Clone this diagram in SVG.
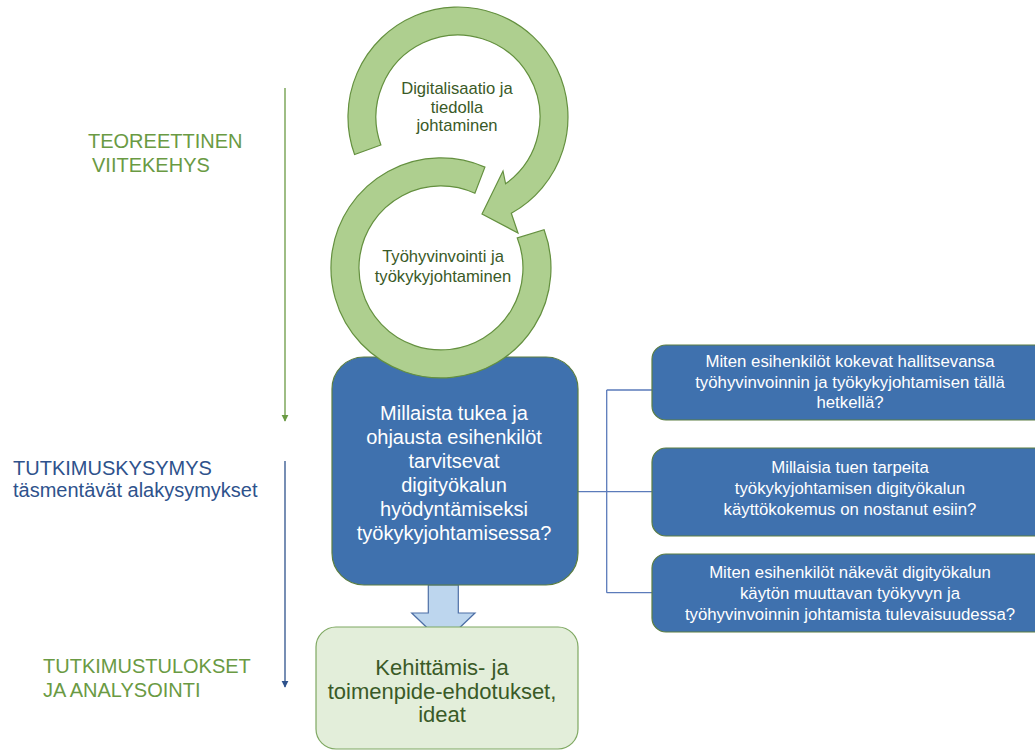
<svg xmlns="http://www.w3.org/2000/svg" width="1035" height="751" viewBox="0 0 1035 751">
  <defs>
    <style>
      text { font-family: "Liberation Sans", Arial, sans-serif; }
      .ring { fill: #AECF8F; stroke: #64903F; stroke-width: 1.2; }
      .ringtxt { font-size: 16.6px; fill: #3A5A27; text-anchor: middle; }
      .blue { fill: #3F71AE; stroke: #5C7E42; stroke-width: 1.2; }
      .maintxt { font-size: 20px; fill: #FFFFFF; text-anchor: middle; }
      .subtxt { font-size: 16.8px; fill: #FFFFFF; text-anchor: middle; }
      .result { fill: #E3EEDA; stroke: #7FA862; stroke-width: 1.2; }
      .restxt { font-size: 22px; fill: #3A5A27; text-anchor: middle; }
      .lblgreen { font-size: 20px; fill: #6A9A43; }
      .lblblue { font-size: 20px; fill: #2E528C; }
      .conn { fill: none; stroke: #5B7BBA; stroke-width: 1.3; }
    </style>
    <marker id="headGreen" viewBox="0 0 10 10" refX="9" refY="5" markerWidth="7" markerHeight="8" markerUnits="userSpaceOnUse" orient="auto">
      <path d="M0,0 L10,5 L0,10 Z" fill="#6A9A43"/>
    </marker>
    <marker id="headBlue" viewBox="0 0 10 10" refX="9" refY="5" markerWidth="7" markerHeight="8" markerUnits="userSpaceOnUse" orient="auto">
      <path d="M0,0 L10,5 L0,10 Z" fill="#2E528C"/>
    </marker>
  </defs>

  <!-- phase labels on the left -->
  <g id="label-teoria">
    <text class="lblgreen" x="88" y="148">TEOREETTINEN</text>
    <text class="lblgreen" x="92" y="172">VIITEKEHYS</text>
  </g>
  <g id="label-kysymys">
    <text class="lblblue" x="13" y="475">TUTKIMUSKYSYMYS</text>
    <text class="lblblue" x="13" y="497">täsmentävät alakysymykset</text>
  </g>
  <g id="label-tulokset">
    <text class="lblgreen" x="43" y="673">TUTKIMUSTULOKSET</text>
    <text class="lblgreen" x="43" y="697">JA ANALYSOINTI</text>
  </g>

  <!-- connectors -->
  <g id="connectors">
    <line x1="285" y1="88" x2="285" y2="421" stroke="#6A9A43" stroke-width="1.3" marker-end="url(#headGreen)"/>
    <line x1="285" y1="461" x2="285" y2="687" stroke="#2E528C" stroke-width="1.3" marker-end="url(#headBlue)"/>
    <path class="conn" d="M578,491.7 H652 M606.7,390 V592.7 M606.7,390 H652 M606.7,592.7 H652"/>
    <path d="M428.3,585 H458.3 V613 H475 L443.3,643.3 L411.7,613 H428.3 Z" fill="#BDD6EE" stroke="#4D6FA6" stroke-width="1.2"/>
  </g>

  <!-- main research question -->
  <g id="main-question">
    <rect class="blue" x="332" y="357" width="246" height="228" rx="32" ry="32"/>
    <text class="maintxt" x="454" y="420">Millaista tukea ja</text>
    <text class="maintxt" x="454" y="444">ohjausta esihenkilöt</text>
    <text class="maintxt" x="454" y="468">tarvitsevat</text>
    <text class="maintxt" x="454" y="492">digityökalun</text>
    <text class="maintxt" x="454" y="516">hyödyntämiseksi</text>
    <text class="maintxt" x="454" y="540">työkykyjohtamisessa?</text>
  </g>

  <!-- theory rings -->
  <g id="ring-digitalisaatio">
    <path class="ring" d="M354.6,154.6 A110,110 0 1 1 511.3,213.2 L518,233 L482,214 L503,171 L505.6,183.8 A82,82 0 1 0 380.9,145 Z"/>
    <text class="ringtxt" x="457" y="94">Digitalisaatio ja</text>
    <text class="ringtxt" x="457" y="112.5">tiedolla</text>
    <text class="ringtxt" x="457" y="131">johtaminen</text>
  </g>
  <g id="ring-tyohyvinvointi">
    <path class="ring" d="M484.9,167.1 A110,110 0 1 0 544.1,229.7 L517.3,238 A82,82 0 1 1 474.9,193.3 Z"/>
    <text class="ringtxt" x="443" y="262">Työhyvinvointi ja</text>
    <text class="ringtxt" x="443" y="282">työkykyjohtaminen</text>
  </g>

  <!-- sub-questions -->
  <g id="sub-question-1">
    <rect class="blue" x="652" y="345" width="396" height="75" rx="14" ry="14"/>
    <text class="subtxt" x="850" y="367">Miten esihenkilöt kokevat hallitsevansa</text>
    <text class="subtxt" x="850" y="388">työhyvinvoinnin ja työkykyjohtamisen tällä</text>
    <text class="subtxt" x="850" y="408">hetkellä?</text>
  </g>
  <g id="sub-question-2">
    <rect class="blue" x="652" y="448" width="396" height="88" rx="14" ry="14"/>
    <text class="subtxt" x="850" y="473">Millaisia tuen tarpeita</text>
    <text class="subtxt" x="850" y="494">työkykyjohtamisen digityökalun</text>
    <text class="subtxt" x="850" y="515">käyttökokemus on nostanut esiin?</text>
  </g>
  <g id="sub-question-3">
    <rect class="blue" x="652" y="554" width="396" height="78" rx="14" ry="14"/>
    <text class="subtxt" x="850" y="578">Miten esihenkilöt näkevät digityökalun</text>
    <text class="subtxt" x="850" y="599">käytön muuttavan työkyvyn ja</text>
    <text class="subtxt" x="850" y="620">työhyvinvoinnin johtamista tulevaisuudessa?</text>
  </g>

  <!-- results -->
  <g id="results">
    <rect class="result" x="316" y="627" width="262" height="122" rx="20" ry="20"/>
    <text class="restxt" x="442" y="675">Kehittämis- ja</text>
    <text class="restxt" x="442" y="698.5">toimenpide-ehdotukset,</text>
    <text class="restxt" x="442" y="722">ideat</text>
  </g>
</svg>
